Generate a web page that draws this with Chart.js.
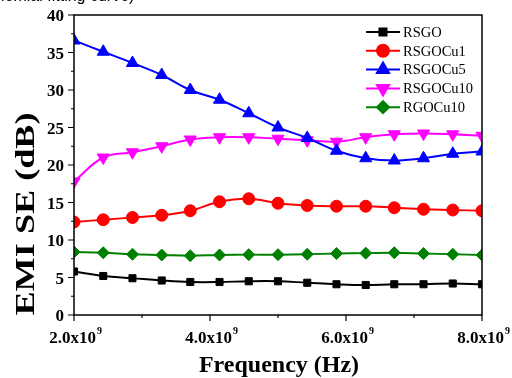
<!DOCTYPE html>
<html>
<head>
<meta charset="utf-8">
<script src="https://cdn.jsdelivr.net/npm/chart.js@4.4.1/dist/chart.umd.min.js"></script>
<style>
    html, body { margin: 0; padding: 0; background: #fff; overflow: hidden; }
    #wrap { position: relative; width: 512px; height: 378px; }
    #note {
        position: absolute; left: -39px; top: -13px;
        font: 16px "Liberation Sans", Arial, sans-serif; color: #000; white-space: nowrap;
    }
</style>
</head>
<body>
<div id="wrap">
    <canvas id="myChart" width="512" height="378"></canvas>
    <div id="note">(polynomial fitting curve)</div>
</div>
<script>
// frequency in GHz (axis shows x10^9 Hz)
var freq = [2.0, 2.43, 2.86, 3.29, 3.71, 4.14, 4.57, 5.0, 5.43, 5.86, 6.29, 6.71, 7.14, 7.57, 8.0];

var rsgo     = [5.8, 5.2, 4.9, 4.6, 4.4, 4.4, 4.5, 4.5, 4.3, 4.1, 4.0, 4.1, 4.1, 4.2, 4.1];
var rsgoCu1  = [12.4, 12.7, 13.0, 13.3, 13.9, 15.1, 15.5, 14.9, 14.6, 14.5, 14.5, 14.3, 14.1, 14.0, 13.9];
var rsgoCu5  = [36.6, 35.1, 33.6, 32.0, 30.0, 28.7, 26.9, 25.0, 23.6, 21.9, 20.9, 20.6, 20.9, 21.5, 21.8];
var rsgoCu10 = [17.8, 21.0, 21.7, 22.5, 23.4, 23.7, 23.7, 23.5, 23.3, 23.1, 23.7, 24.1, 24.2, 24.1, 23.9];
var rgoCu10  = [8.4, 8.3, 8.1, 8.0, 7.9, 8.0, 8.05, 8.05, 8.1, 8.2, 8.25, 8.3, 8.2, 8.1, 8.0];

var xTicks = [2, 4, 6, 8];
var xMinor = [3, 5, 7];
var yTicks = [0, 5, 10, 15, 20, 25, 30, 35, 40];
var yMinor = [2.5, 7.5, 12.5, 17.5, 22.5, 27.5, 32.5, 37.5];

var serif = '"Liberation Serif", "Times New Roman", serif';

function pts(arr) {
    return arr.map(function (v, i) { return { x: freq[i], y: v }; });
}

function series(label, arr, color, style, radius, rot) {
    return {
        label: label,
        data: pts(arr),
        borderColor: color,
        backgroundColor: color,
        borderWidth: 2,
        pointStyle: style,
        pointRadius: radius,
        pointHoverRadius: radius,
        pointRotation: rot || 0,
        pointBorderWidth: 1,
        tension: 0.4,
        clip: 0
    };
}

// box, tick marks + labels, axis titles and line+marker legend
var decor = {
    id: 'decor',
    afterDraw: function (chart) {
        var c = chart.ctx, a = chart.chartArea;
        var xs = chart.scales.x, ys = chart.scales.y;
        c.save();
        c.strokeStyle = '#000';
        c.lineWidth = 1.5;
        c.strokeRect(a.left, a.top, a.right - a.left, a.bottom - a.top);

        c.lineWidth = 1.2;
        c.beginPath();
        yTicks.forEach(function (t) {
            var py = ys.getPixelForValue(t);
            c.moveTo(a.left, py); c.lineTo(a.left - 6, py);
        });
        yMinor.forEach(function (t) {
            var py = ys.getPixelForValue(t);
            c.moveTo(a.left, py); c.lineTo(a.left - 3, py);
        });
        xTicks.forEach(function (t) {
            var px = xs.getPixelForValue(t);
            c.moveTo(px, a.bottom); c.lineTo(px, a.bottom + 6);
        });
        xMinor.forEach(function (t) {
            var px = xs.getPixelForValue(t);
            c.moveTo(px, a.bottom); c.lineTo(px, a.bottom + 3);
        });
        c.stroke();

        // tick labels
        c.fillStyle = '#000';
        c.textBaseline = 'alphabetic';
        c.font = 'bold 17px ' + serif;
        c.textAlign = 'right';
        yTicks.forEach(function (t) {
            c.fillText(String(t), a.left - 10, ys.getPixelForValue(t) + 6);
        });
        c.textAlign = 'left';
        xTicks.forEach(function (t) {
            var base = t.toFixed(1) + 'x10';
            c.font = 'bold 17px ' + serif;
            var w1 = c.measureText(base).width;
            c.font = 'bold 10px ' + serif;
            var w2 = c.measureText('9').width;
            var x0 = xs.getPixelForValue(t) - (w1 + w2) / 2 + 1;
            c.font = 'bold 17px ' + serif;
            c.fillText(base, x0, a.bottom + 28);
            c.font = 'bold 10px ' + serif;
            c.fillText('9', x0 + w1 + 1, a.bottom + 19);
        });

        // axis titles
        c.font = 'bold 24px ' + serif;
        c.textAlign = 'center';
        c.fillText('Frequency (Hz)', 279, 372);
        c.save();
        c.translate(34, 214);
        c.rotate(-Math.PI / 2);
        c.scale(1.34, 1);
        c.font = 'bold 27px ' + serif;
        c.fillText('EMI SE (dB)', 0, 0);
        c.restore();

        // legend
        c.font = '14.5px ' + serif;
        c.textAlign = 'left';
        c.textBaseline = 'middle';
        chart.data.datasets.forEach(function (ds, i) {
            var y = 32 + i * 18.8;
            c.strokeStyle = ds.borderColor;
            c.lineWidth = 2;
            c.beginPath();
            c.moveTo(366, y); c.lineTo(400, y);
            c.stroke();
            c.fillStyle = ds.backgroundColor;
            Chart.helpers.drawPoint(c, {
                pointStyle: ds.pointStyle,
                radius: ds.pointRadius,
                rotation: ds.pointRotation,
                borderWidth: 1
            }, 383, y);
            c.fillStyle = '#000';
            c.fillText(ds.label, 403, y + 1);
        });
        c.restore();
    }
};

var ctx = document.getElementById('myChart').getContext('2d');
var chart = new Chart(ctx, {
    type: 'line',
    data: {
        datasets: [
            series('RSGO', rsgo, '#000000', 'rect', 5),
            series('RSGOCu1', rsgoCu1, '#ff0000', 'circle', 6),
            series('RSGOCu5', rsgoCu5, '#0000ff', 'triangle', 7),
            series('RSGOCu10', rsgoCu10, '#ff00ff', 'triangle', 7, 180),
            series('RGOCu10', rgoCu10, '#008000', 'rectRot', 6)
        ]
    },
    options: {
        responsive: false,
        animation: false,
        events: [],
        layout: { padding: { top: 15, right: 30, left: 0, bottom: 0 } },
        plugins: { legend: { display: false }, tooltip: { enabled: false } },
        scales: {
            x: {
                type: 'linear',
                min: 2, max: 8,
                grid: { display: false },
                border: { display: false },
                ticks: { display: false },
                afterFit: function (s) { s.height = 63; }
            },
            y: {
                min: 0, max: 40,
                grid: { display: false },
                border: { display: false },
                ticks: { display: false },
                afterFit: function (s) { s.width = 74; }
            }
        }
    },
    plugins: [decor]
});
</script>
</body>
</html>
